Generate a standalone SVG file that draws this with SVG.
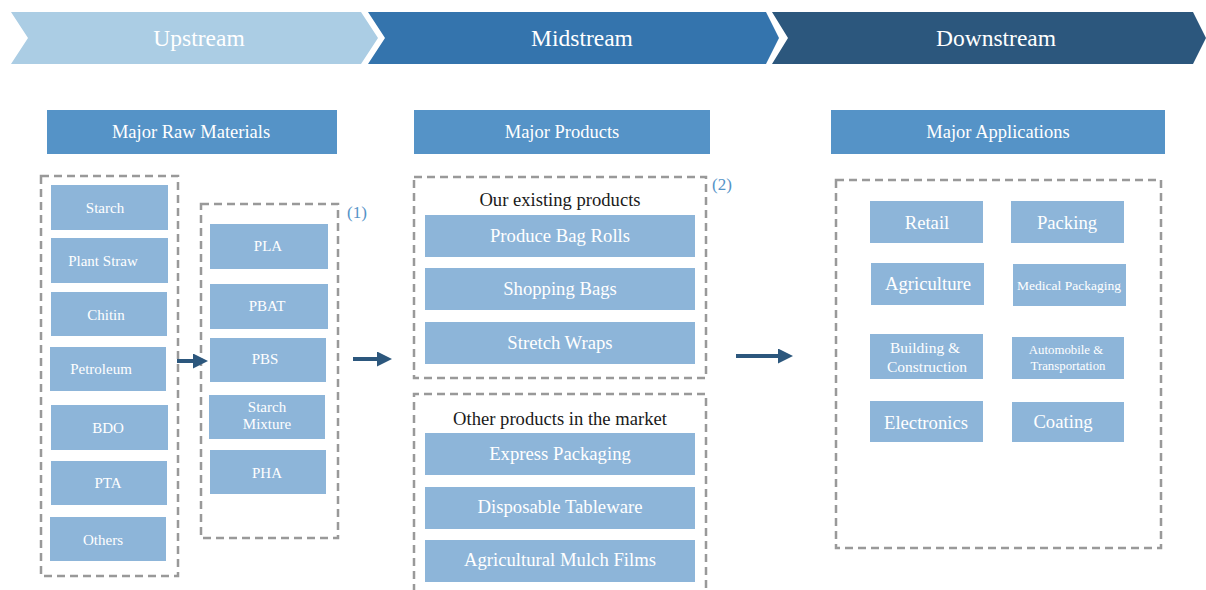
<svg xmlns="http://www.w3.org/2000/svg" width="1206" height="590" viewBox="0 0 1206 590">
<defs>
<style>
.t{font-family:"Liberation Serif","Times New Roman",serif;fill:#fff;text-anchor:middle;dominant-baseline:central}
.bn{font-size:23.5px}
.hd{fill:#5593C7}
.hdt{font-size:18.5px}
.bx{fill:#8DB5D9}
.dash{fill:none;stroke:#999;stroke-width:2.5;stroke-dasharray:8 5}
.s15{font-size:15px}
.s155{font-size:15.5px}
.s19{font-size:18.7px}
.s135{font-size:13.5px}
.s13{font-size:12.8px}
.blk{font-family:"Liberation Serif","Times New Roman",serif;fill:#1a1a1a;text-anchor:middle;dominant-baseline:central;font-size:18.6px}
.num{font-family:"Liberation Serif","Times New Roman",serif;fill:#5593C7;font-size:17px}
.ar{stroke:#2C577D;stroke-width:4;fill:none}
</style>
<marker id="ah" markerWidth="15" markerHeight="15" refX="0" refY="7.5" orient="auto" markerUnits="userSpaceOnUse">
<path d="M0,0 L15,7.5 L0,15 Z" fill="#2C577D"/>
</marker>
</defs>
<rect width="1206" height="590" fill="#fff"/>

<g id="banner-upstream">
<polygon points="11,12 361,12 378,38 361,64 11,64 28,38" fill="#ABCDE4"/>
<text class="t bn" x="199" y="38">Upstream</text>
</g>
<g id="banner-midstream">
<polygon points="368,12 766,12 779,38 766,64 368,64 385,38" fill="#3474AD"/>
<text class="t bn" x="582" y="38">Midstream</text>
</g>
<g id="banner-downstream">
<polygon points="772,12 1193,12 1206,38 1193,64 772,64 788,38" fill="#2C577D"/>
<text class="t bn" x="996" y="38">Downstream</text>
</g>

<g id="hdr-raw"><rect class="hd" x="47" y="110" width="290" height="44"/><text class="t hdt" x="191" y="132">Major Raw Materials</text></g>
<g id="hdr-products"><rect class="hd" x="414" y="110" width="296" height="44"/><text class="t hdt" x="562" y="132">Major Products</text></g>
<g id="hdr-apps"><rect class="hd" x="831" y="110" width="334" height="44"/><text class="t hdt" x="998" y="132">Major Applications</text></g>

<g id="grp-raw"><rect class="dash" x="41" y="176" width="137" height="400"/></g>
<g id="n-starch"><rect class="bx" x="51" y="185" width="117" height="45"/><text class="t s15" x="105" y="208">Starch</text></g>
<g id="n-plantstraw"><rect class="bx" x="51" y="238" width="117" height="45"/><text class="t s15" x="103" y="261">Plant Straw</text></g>
<g id="n-chitin"><rect class="bx" x="51" y="292" width="116" height="44"/><text class="t s15" x="106" y="315">Chitin</text></g>
<g id="n-petroleum"><rect class="bx" x="50" y="347" width="116" height="44"/><text class="t s15" x="101" y="369">Petroleum</text></g>
<g id="n-bdo"><rect class="bx" x="51" y="405" width="117" height="45"/><text class="t s15" x="108" y="428">BDO</text></g>
<g id="n-pta"><rect class="bx" x="51" y="461" width="116" height="44"/><text class="t s15" x="108" y="483">PTA</text></g>
<g id="n-others"><rect class="bx" x="50" y="517" width="116" height="44"/><text class="t s15" x="103" y="540">Others</text></g>

<g id="grp-polymers"><rect class="dash" x="201" y="204" width="137" height="334"/><text class="num" x="347" y="218">(1)</text></g>
<g id="n-pla"><rect class="bx" x="210" y="224" width="118" height="45"/><text class="t s15" x="268" y="246">PLA</text></g>
<g id="n-pbat"><rect class="bx" x="210" y="284" width="118" height="45"/><text class="t s15" x="267" y="306">PBAT</text></g>
<g id="n-pbs"><rect class="bx" x="210" y="338" width="116" height="44"/><text class="t s15" x="265" y="359">PBS</text></g>
<g id="n-starchmix"><rect class="bx" x="209" y="395" width="116" height="44"/><text class="t s15" x="267" y="407">Starch</text><text class="t s15" x="267" y="424">Mixture</text></g>
<g id="n-pha"><rect class="bx" x="210" y="450" width="116" height="44"/><text class="t s15" x="267" y="473">PHA</text></g>

<g id="grp-existing"><rect class="dash" x="414" y="177" width="292" height="201"/><text class="num" x="712" y="190">(2)</text><text class="blk" x="560" y="199">Our existing products</text></g>
<g id="n-producebag"><rect class="bx" x="425" y="215" width="270" height="42"/><text class="t s19" x="560" y="235">Produce Bag Rolls</text></g>
<g id="n-shopping"><rect class="bx" x="425" y="268" width="270" height="42"/><text class="t s19" x="560" y="288">Shopping Bags</text></g>
<g id="n-stretch"><rect class="bx" x="425" y="322" width="270" height="42"/><text class="t s19" x="560" y="342">Stretch Wraps</text></g>

<g id="grp-other"><path class="dash" d="M414,592 L414,394 L706,394 L706,592"/><text class="blk" x="560" y="418">Other products in the market</text></g>
<g id="n-express"><rect class="bx" x="425" y="433" width="270" height="42"/><text class="t s19" x="560" y="453">Express Packaging</text></g>
<g id="n-tableware"><rect class="bx" x="425" y="487" width="270" height="42"/><text class="t s19" x="560" y="506">Disposable Tableware</text></g>
<g id="n-mulch"><rect class="bx" x="425" y="540" width="270" height="42"/><text class="t s19" x="560" y="559">Agricultural Mulch Films</text></g>

<g id="grp-apps"><rect class="dash" x="836" y="180" width="325" height="368"/></g>
<g id="n-retail"><rect class="bx" x="870" y="201" width="113" height="42"/><text class="t s19" x="927" y="222">Retail</text></g>
<g id="n-packing"><rect class="bx" x="1011" y="201" width="113" height="42"/><text class="t s19" x="1067" y="222">Packing</text></g>
<g id="n-agri"><rect class="bx" x="871" y="263" width="113" height="42"/><text class="t s19" x="928" y="283">Agriculture</text></g>
<g id="n-medical"><rect class="bx" x="1013" y="264" width="113" height="42"/><text class="t s135" x="1069" y="285">Medical Packaging</text></g>
<g id="n-building"><rect class="bx" x="870" y="334" width="113" height="45"/><text class="t s155" x="925" y="347">Building &amp;</text><text class="t s155" x="927" y="366">Construction</text></g>
<g id="n-auto"><rect class="bx" x="1012" y="337" width="112" height="42"/><text class="t s13" x="1066" y="350">Automobile &amp;</text><text class="t s13" x="1068" y="366">Transportation</text></g>
<g id="n-electronics"><rect class="bx" x="870" y="401" width="113" height="41"/><text class="t s19" x="926" y="422">Electronics</text></g>
<g id="n-coating"><rect class="bx" x="1012" y="402" width="112" height="40"/><text class="t s19" x="1063" y="421">Coating</text></g>

<g id="connectors">
<path class="ar" d="M177,361 L193,361" marker-end="url(#ah)"/>
<path class="ar" d="M353,359 L377,359" marker-end="url(#ah)"/>
<path class="ar" d="M736,356 L778,356" marker-end="url(#ah)"/>
</g>
</svg>
